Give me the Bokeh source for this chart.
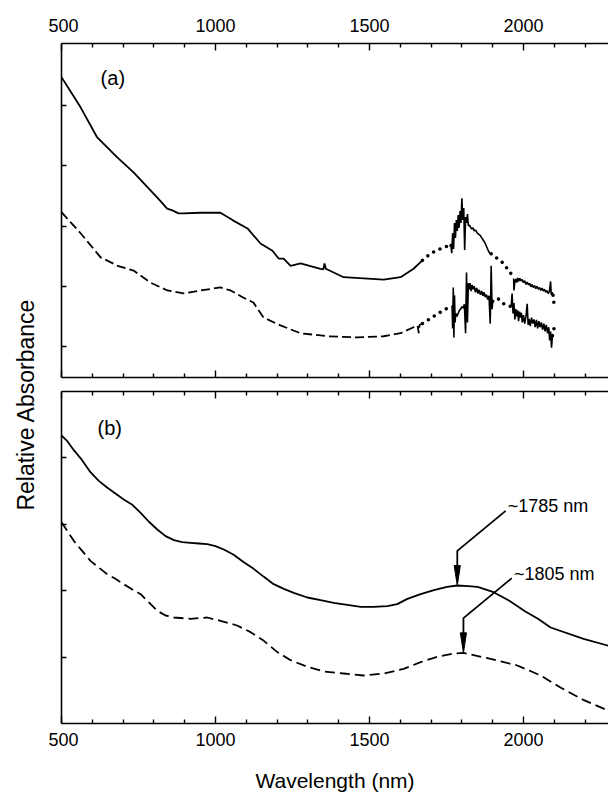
import numpy as np
from math import pi
from bokeh.plotting import figure
from bokeh.layouts import row, column
from bokeh.models import Range1d, FixedTicker, LinearAxis, Label
from bokeh.embed import file_html
from bokeh.resources import INLINE

FONT = "Liberation Sans"

# ---------------- data ----------------
x_major_ticks = [500, 1000, 1500, 2000]
x_minor_ticks = [600, 700, 800, 900, 1100, 1200, 1300, 1400, 1600, 1700, 1800, 1900, 2100, 2200]
a_y_ticks = [1, 2, 3, 4, 5]
b_y_ticks = [1, 2, 3, 4]

# panel (a) solid
a_solid_x = [500, 562, 616, 681, 734, 789, 820, 843, 860, 880, 896, 951, 1016, 1058, 1104, 1146, 1185, 1205, 1221,
             1244, 1276, 1341, 1350, 1354, 1358, 1416, 1481, 1546, 1601, 1643, 1672]
a_solid_y = [5.47, 4.97, 4.47, 4.14, 3.89, 3.59, 3.42, 3.29, 3.26, 3.21, 3.21, 3.22, 3.22, 3.09, 2.96, 2.71, 2.59,
             2.46, 2.46, 2.34, 2.38, 2.29, 2.28, 2.38, 2.29, 2.15, 2.13, 2.11, 2.15, 2.29, 2.43]
a_solid_gap1_x = [1672, 1700, 1730, 1760]
a_solid_gap1_y = [2.43, 2.55, 2.62, 2.68]
a_solid_noise1_x = [1760, 1764, 1767, 1770, 1773, 1776, 1779, 1782, 1785, 1788, 1791, 1794, 1797, 1800, 1803, 1806,
                    1809, 1812, 1815, 1818, 1821, 1824, 1828, 1832, 1836, 1840, 1845, 1850, 1855, 1860, 1865, 1870,
                    1875, 1880, 1885, 1890, 1895]
a_solid_noise1_y = [2.66, 2.70, 2.55, 2.88, 2.62, 3.05, 2.80, 3.10, 2.92, 3.18, 2.97, 3.25, 3.05, 3.46, 3.10, 3.30,
                    2.60, 3.15, 3.05, 3.20, 3.00, 3.02, 2.98, 2.95, 2.97, 2.92, 2.93, 2.88, 2.86, 2.84, 2.80, 2.76,
                    2.72, 2.66, 2.60, 2.55, 2.54]
a_solid_gap2_x = [1895, 1915, 1935, 1952, 1968]
a_solid_gap2_y = [2.54, 2.46, 2.38, 2.26, 2.15]
a_solid_noise2_x = [1968, 1969, 1972, 1975, 1978, 1981, 1984, 1988, 1992, 1996, 2000, 2004, 2008, 2012, 2016, 2020,
                    2024, 2028, 2032, 2036, 2040, 2044, 2048, 2052, 2056, 2060, 2064, 2068, 2072, 2076, 2080, 2084,
                    2088, 2090, 2093, 2096]
a_solid_noise2_y = [2.13, 1.93, 2.08, 2.12, 2.06, 2.14, 2.08, 2.13, 2.09, 2.11, 2.06, 2.09, 2.03, 2.07, 2.02, 2.05,
                    1.99, 2.03, 1.98, 2.01, 1.96, 2.00, 1.95, 1.98, 1.93, 1.97, 1.92, 1.95, 1.90, 1.93, 1.88, 1.91,
                    2.08, 1.86, 1.90, 1.85]
a_solid_gap3_x = [2096, 2100]
a_solid_gap3_y = [1.85, 1.66]

# panel (a) dashed
a_dash_x = [500, 562, 627, 682, 734, 789, 844, 896, 951, 1016, 1049, 1091, 1123, 1156, 1211, 1276, 1364, 1461,
            1546, 1601, 1643, 1656, 1660, 1663, 1672]
a_dash_y = [3.23, 2.88, 2.48, 2.34, 2.26, 2.06, 1.93, 1.88, 1.93, 1.98, 1.93, 1.81, 1.73, 1.48, 1.35, 1.22, 1.17, 1.15,
            1.17, 1.22, 1.32, 1.35, 1.22, 1.36, 1.38]
a_dash_gap1_x = [1672, 1724, 1768]
a_dash_gap1_y = [1.38, 1.55, 1.68]
a_dash_noise1_x = [1768, 1770, 1772, 1774, 1776, 1778, 1780, 1784, 1788, 1792, 1796, 1800, 1804, 1808, 1812, 1815,
                   1818, 1821, 1824, 1827, 1830, 1833, 1836, 1840, 1844, 1848, 1852, 1856, 1860, 1864, 1868, 1872,
                   1876, 1880, 1884, 1888, 1892, 1895, 1898, 1900]
a_dash_noise1_y = [1.68, 1.30, 1.98, 1.15, 1.85, 1.40, 1.55, 1.50, 1.55, 1.60, 1.62, 1.66, 1.64, 1.70, 1.22, 2.23,
                   1.40, 2.05, 1.95, 2.05, 1.92, 2.02, 1.95, 2.00, 1.90, 1.97, 1.88, 1.94, 1.86, 1.92, 1.84, 1.90,
                   1.82, 1.86, 1.78, 1.84, 1.38, 2.34, 1.62, 1.75]
a_dash_gap2_x = [1900, 1916, 1935, 1960]
a_dash_gap2_y = [1.75, 1.80, 1.71, 1.66]
a_dash_noise2_x = [1960, 1963, 1966, 1969, 1972, 1975, 1978, 1981, 1984, 1987, 1990, 1993, 1996, 2000, 2004, 2008,
                   2012, 2015, 2018, 2022, 2026, 2030, 2034, 2038, 2042, 2046, 2050, 2054, 2058, 2062, 2066, 2070,
                   2074, 2078, 2082, 2085, 2088, 2091, 2094]
a_dash_noise2_y = [1.66, 1.88, 1.55, 1.72, 1.45, 1.62, 1.50, 1.60, 1.42, 1.58, 1.48, 1.56, 1.40, 1.52, 1.38, 1.50,
                   1.71, 1.36, 1.46, 1.34, 1.48, 1.38, 1.45, 1.32, 1.44, 1.30, 1.42, 1.32, 1.40, 1.28, 1.38, 1.25,
                   1.36, 1.22, 1.32, 1.10, 1.25, 0.98, 1.18]
a_dash_gap3_x = [2094, 2100]
a_dash_gap3_y = [1.18, 1.32]

# panel (b)
b_solid_x = [500, 518, 540, 567, 594, 621, 648, 675, 702, 730, 757, 783, 811, 838, 865, 892, 919, 946, 973, 1000,
             1027, 1059, 1092, 1124, 1157, 1189, 1222, 1254, 1298, 1341, 1384, 1428, 1471, 1514, 1558, 1590, 1623,
             1666, 1709, 1752, 1785, 1820, 1851, 1903, 1954, 2006, 2047, 2088, 2195, 2273, 2300]
b_solid_y = [4.33, 4.25, 4.11, 3.96, 3.78, 3.65, 3.55, 3.46, 3.37, 3.29, 3.17, 3.04, 2.92, 2.82, 2.76, 2.73, 2.72,
             2.71, 2.70, 2.67, 2.62, 2.54, 2.43, 2.33, 2.21, 2.10, 2.03, 1.97, 1.90, 1.86, 1.82, 1.79, 1.76, 1.76,
             1.77, 1.80, 1.88, 1.95, 2.01, 2.06, 2.08, 2.07, 2.06, 1.98, 1.85, 1.69, 1.58, 1.45, 1.28, 1.18, 1.15]
b_dash_x = [500, 540, 567, 594, 621, 648, 675, 702, 730, 757, 783, 811, 838, 865, 919, 973, 1016, 1070, 1114, 1157,
            1201, 1244, 1298, 1352, 1416, 1481, 1546, 1611, 1666, 1720, 1774, 1805, 1893, 1980, 2056, 2120, 2196,
            2272, 2300]
b_dash_y = [3.03, 2.75, 2.60, 2.45, 2.35, 2.25, 2.18, 2.10, 2.02, 1.95, 1.83, 1.70, 1.63, 1.60, 1.58, 1.60, 1.55,
            1.48, 1.38, 1.25, 1.08, 0.96, 0.86, 0.79, 0.76, 0.73, 0.76, 0.83, 0.93, 1.01, 1.06, 1.07, 0.98, 0.88,
            0.73, 0.55, 0.36, 0.21, 0.17]

peak_nm = [1785, 1805]
peak_labels = ["~1785 nm", "~1805 nm"]

# ---------------- styling helpers ----------------
X_RANGE = (500, 2276)


def style_x_axis(ax, show_labels, standoff=8):
    ax.ticker = FixedTicker(ticks=x_major_ticks, minor_ticks=x_minor_ticks)
    ax.major_tick_in = 7
    ax.major_tick_out = 0
    ax.minor_tick_in = 4
    ax.minor_tick_out = 0
    ax.axis_line_width = 1.6
    ax.major_tick_line_width = 1.4
    ax.minor_tick_line_width = 1.4
    ax.axis_line_color = "black"
    ax.major_tick_line_color = "black"
    ax.minor_tick_line_color = "black"
    if show_labels:
        ax.major_label_text_font = FONT
        ax.major_label_text_font_size = "18px"
        ax.major_label_text_color = "black"
        ax.major_label_standoff = standoff
    else:
        ax.major_label_text_font_size = "1px"
        ax.major_label_text_color = None
        ax.major_label_standoff = 0


def style_y_axis(ax, ticks):
    ax.ticker = FixedTicker(ticks=ticks, minor_ticks=[])
    ax.major_tick_in = 5
    ax.major_tick_out = 0
    ax.minor_tick_line_color = None
    ax.axis_line_width = 1.6
    ax.major_tick_line_width = 1.4
    ax.axis_line_color = "black"
    ax.major_label_text_font_size = "1px"
    ax.major_label_text_color = None
    ax.major_label_standoff = 0


def make_panel(height, yr, top_border, bottom_border, labels_above, y_ticks):
    p = figure(width=560, height=height, x_range=Range1d(*X_RANGE), y_range=Range1d(*yr),
               output_backend="svg", toolbar_location=None,
               x_axis_location=None, y_axis_location="left",
               min_border_left=13, min_border_right=0,
               min_border_top=top_border, min_border_bottom=bottom_border)
    p.outline_line_color = None
    p.grid.grid_line_color = None
    p.background_fill_color = "white"
    p.border_fill_color = "white"
    labeled = LinearAxis()
    style_x_axis(labeled, True, standoff=12 if labels_above else 9)
    plain = LinearAxis()
    style_x_axis(plain, False)
    p.add_layout(labeled, "above" if labels_above else "below")
    p.add_layout(plain, "below" if labels_above else "above")
    style_y_axis(p.yaxis[0], y_ticks)
    return p, labeled


LW = 1.8
NOISE_LW = 1.6
DOT = dict(line_width=3.6, line_dash="0 7", line_cap="round", line_color="black")

# ---------------- panel (a) ----------------
pa, _ = make_panel(384, (0.485, 6.03), 43, 7, True, a_y_ticks)
pa.line(a_solid_x, a_solid_y, line_color="black", line_width=LW)
pa.line(a_dash_x, a_dash_y, line_color="black", line_width=LW, line_dash="9 4")
for xs, ys in [(a_solid_gap1_x, a_solid_gap1_y), (a_solid_gap2_x, a_solid_gap2_y), (a_solid_gap3_x, a_solid_gap3_y),
               (a_dash_gap1_x, a_dash_gap1_y), (a_dash_gap2_x, a_dash_gap2_y), (a_dash_gap3_x, a_dash_gap3_y)]:
    pa.line(xs, ys, **DOT)
for xs, ys in [(a_solid_noise1_x, a_solid_noise1_y), (a_solid_noise2_x, a_solid_noise2_y),
               (a_dash_noise1_x, a_dash_noise1_y), (a_dash_noise2_x, a_dash_noise2_y)]:
    pa.line(xs, ys, line_color="black", line_width=NOISE_LW)
pa.add_layout(Label(x=627, y=5.46, text="(a)", text_font=FONT, text_font_size="20px",
                    text_baseline="middle", text_align="left", text_color="black"))

# ---------------- panel (b) ----------------
pb, pb_xaxis = make_panel(416, (0.01, 4.99), 7, 77, False, b_y_ticks)
pb.line(b_solid_x, b_solid_y, line_color="black", line_width=LW)
pb.line(b_dash_x, b_dash_y, line_color="black", line_width=LW, line_dash="10 5")
pb_xaxis.axis_label = "Wavelength (nm)"
pb_xaxis.axis_label_text_font = FONT
pb_xaxis.axis_label_text_font_size = "21px"
pb_xaxis.axis_label_text_font_style = "normal"
pb_xaxis.axis_label_text_color = "black"
pb_xaxis.axis_label_standoff = 20
pb.add_layout(Label(x=617, y=4.45, text="(b)", text_font=FONT, text_font_size="20px",
                    text_baseline="middle", text_align="left", text_color="black"))

# arrows pointing at peaks
V_LEN = 0.52      # vertical stem length (y units)
D_DX = 157        # diagonal horizontal extent (nm)
D_DY = 0.60       # diagonal vertical extent
HEAD_LEN = 0.30
HEAD_HW = 10
curves = [(b_solid_x, b_solid_y), (b_dash_x, b_dash_y)]
for pk, lab, (cx, cy) in zip(peak_nm, peak_labels, curves):
    tip = float(np.interp(pk, cx, cy))
    pb.line([pk + D_DX, pk, pk], [tip + V_LEN + D_DY, tip + V_LEN, tip + HEAD_LEN],
            line_color="black", line_width=1.8)
    pb.patch([pk - HEAD_HW, pk + HEAD_HW, pk], [tip + HEAD_LEN, tip + HEAD_LEN, tip],
             fill_color="black", line_color="black", line_width=1)
    pb.add_layout(Label(x=pk + D_DX + 7, y=tip + V_LEN + D_DY + 0.07, text=lab, text_font=FONT,
                        text_font_size="18px", text_baseline="middle", text_align="left",
                        text_color="black"))

# ---------------- y title ----------------
lf = figure(width=48, height=800, x_range=Range1d(0, 48), y_range=Range1d(0, 800),
            x_axis_type=None, y_axis_type=None, toolbar_location=None, output_backend="svg",
            min_border=0, min_border_left=0, min_border_right=0, min_border_top=0, min_border_bottom=0)
lf.outline_line_color = None
lf.add_layout(Label(x=25, y=800 - 404, text="Relative Absorbance", angle=pi / 2, text_font=FONT,
                    text_font_size="23px", text_align="center", text_baseline="middle", text_color="black"))

layout = row(lf, column(pa, pb))
open("out.html", "w").write(file_html(layout, INLINE))
